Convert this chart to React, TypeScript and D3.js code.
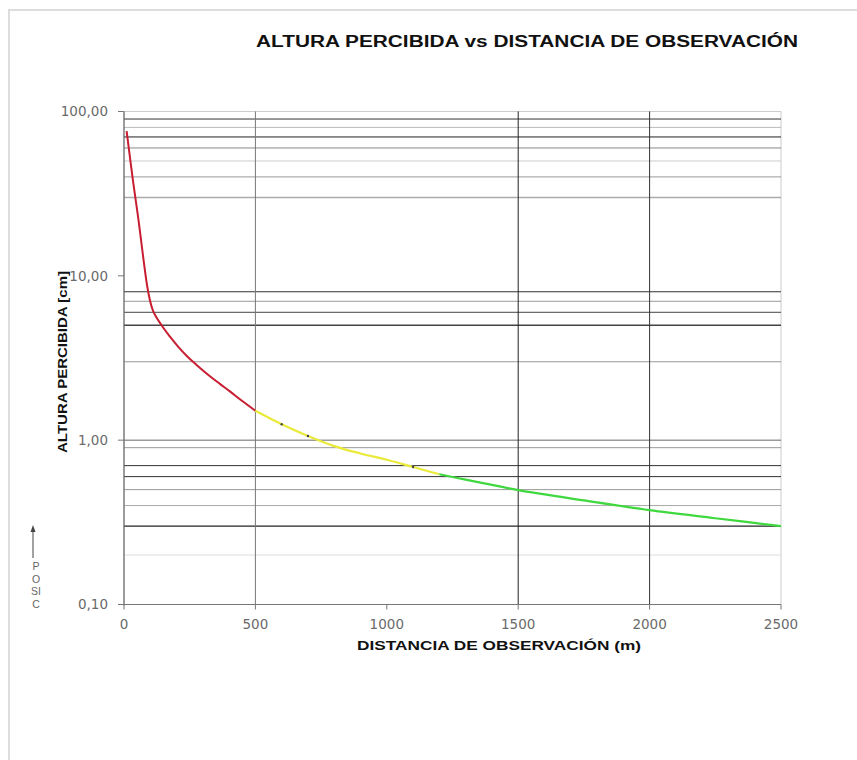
import React from "react";
import * as d3 from "d3";

// ---- data ----
const xTicks = [0, 500, 1000, 1500, 2000, 2500];
const yMajorTicks = [0.1, 1, 10, 100];
const hGridValues = [90, 80, 70, 60, 50, 40, 30, 8, 7, 6, 5, 3, 1, 0.9, 0.7, 0.6, 0.5, 0.4, 0.3, 0.2];
const vGridValues = [500, 1500, 2000];

const distRed = [10, 35, 55, 73, 92, 111, 143, 175, 205, 239, 275, 327, 365, 403, 450, 500];
const altRed = [76, 37, 22, 13, 8.0, 6.1, 5.0, 4.26, 3.72, 3.25, 2.88, 2.45, 2.2, 1.98, 1.73, 1.51];
const distYellow = [500, 600, 700, 800, 900, 1000, 1100, 1200];
const altYellow = [1.51, 1.25, 1.06, 0.92, 0.83, 0.76, 0.687, 0.62];
const distGreen = [1200, 1300, 1400, 1500, 1750, 2000, 2250, 2500];
const altGreen = [0.62, 0.575, 0.535, 0.497, 0.43, 0.375, 0.335, 0.3];
const markerDist = [600, 700, 1100];
const markerAlt = [1.25, 1.06, 0.687];

const title = "ALTURA PERCIBIDA vs DISTANCIA DE OBSERVACIÓN";
const xTitle = "DISTANCIA DE OBSERVACIÓN (m)";
const yTitle = "ALTURA PERCIBIDA [cm]";
const sideLetters = ["P", "O", "SI", "C"];

// ---- styles ----
const hGridTone: Record<string, [string, number]> = {
  "90": ["#333", 1], "80": ["#bbb", 1], "70": ["#222", 1], "60": ["#888", 1],
  "50": ["#ccc", 1], "40": ["#999", 1], "30": ["#aaa", 1.6],
  "8": ["#333", 1], "7": ["#999", 1], "6": ["#444", 1], "5": ["#444", 1.6], "3": ["#999", 1],
  "1": ["#666", 1], "0.9": ["#999", 1], "0.7": ["#333", 1], "0.6": ["#333", 1],
  "0.5": ["#999", 1], "0.4": ["#aaa", 1], "0.3": ["#222", 1.2], "0.2": ["#ddd", 1],
};
const vGridTone: Record<string, string> = { "500": "#777", "1500": "#222", "2000": "#333" };

const W = 857, H = 760;
const X0 = 124, X1 = 781, YT = 111.5, YB = 604.5;

export default function App() {
  const x = d3.scaleLinear().domain([0, 2500]).range([X0, X1]);
  const y = d3.scaleLog().domain([0.1, 100]).range([YB, YT]);
  const loc = d3.formatLocale({ decimal: ",", thousands: ".", grouping: [3], currency: ["", ""] });
  const fmt = loc.format(".2f");

  const line = d3
    .line<[number, number]>()
    .x((d) => x(d[0]))
    .y((d) => y(d[1]))
    .curve(d3.curveCatmullRom.alpha(0.5));
  const zip = (a: number[], b: number[]) => a.map((v, i) => [v, b[i]] as [number, number]);

  return (
    <svg width={W} height={H} style={{ position: "absolute", left: 0, top: 0, background: "#fff" }}>
      <rect x={9} y={10} width={900} height={800} fill="#fff" stroke="#ddd" strokeWidth={2} />

      <text x={256} y={47} fontFamily="Liberation Sans, Arial" fontWeight="bold" fontSize={16}
        textLength={542} lengthAdjust="spacingAndGlyphs" fill="#111">
        {title}
      </text>

      {/* plot border top/right */}
      <line x1={X0} x2={X1} y1={YT} y2={YT} stroke="#ccc" strokeWidth={1} />
      <line x1={X1} x2={X1} y1={YT} y2={YB} stroke="#ccc" strokeWidth={1} />

      {hGridValues.map((v) => {
        const t = hGridTone[String(v)];
        return (
          <line key={"h" + v} x1={X0} x2={X1} y1={y(v)} y2={y(v)} stroke={t[0]} strokeWidth={t[1]} />
        );
      })}
      {vGridValues.map((v) => (
        <line key={"v" + v} x1={x(v)} x2={x(v)} y1={YT} y2={YB} stroke={vGridTone[String(v)]} strokeWidth={1} />
      ))}

      {/* axes */}
      <line x1={X0} x2={X0} y1={YT} y2={YB + 1} stroke="#666" strokeWidth={1.3} />
      <line x1={X0} x2={X1} y1={YB} y2={YB} stroke="#777" strokeWidth={1.2} />
      {yMajorTicks.map((v) => (
        <g key={"yt" + v}>
          <line x1={X0 - 6} x2={X0} y1={y(v)} y2={y(v)} stroke="#777" />
          <text x={108} y={y(v)} dy="0.35em" textAnchor="end" fontFamily="DejaVu Sans" fontSize={13.5} fill="#6a6a6a">
            {fmt(v)}
          </text>
        </g>
      ))}
      {xTicks.map((v) => (
        <g key={"xt" + v}>
          <line x1={x(v)} x2={x(v)} y1={YB} y2={YB + 5} stroke="#777" />
          <text x={x(v)} y={629} textAnchor="middle" fontFamily="DejaVu Sans" fontSize={13.5} fill="#6a6a6a">
            {v}
          </text>
        </g>
      ))}

      {/* curve */}
      <path d={line(zip(distRed, altRed)) || ""} fill="none" stroke="#c81e32" strokeWidth={2} />
      <path d={line(zip(distYellow, altYellow)) || ""} fill="none" stroke="#eaea3a" strokeWidth={2.2} />
      <path d={line(zip(distGreen, altGreen)) || ""} fill="none" stroke="#3fd83f" strokeWidth={2.2} />
      {markerDist.map((d, i) => (
        <circle key={"m" + d} cx={x(d)} cy={y(markerAlt[i])} r={1.2} fill="#444" />
      ))}

      {/* axis titles */}
      <text x={357} y={650} fontFamily="Liberation Sans, Arial" fontWeight="bold" fontSize={13.5}
        textLength={284} lengthAdjust="spacingAndGlyphs" fill="#111">
        {xTitle}
      </text>
      <text transform={`translate(67,453) rotate(-90)`} fontFamily="Liberation Sans, Arial" fontWeight="bold"
        fontSize={12.5} textLength={182} lengthAdjust="spacingAndGlyphs" fill="#111">
        {yTitle}
      </text>

      {/* side marker */}
      <line x1={33} x2={33} y1={531} y2={558} stroke="#444" strokeWidth={1} />
      <path d="M30.5,532 L33,525 L35.5,532 Z" fill="#444" />
      {sideLetters.map((s, i) => (
        <text key={s + i} x={36} y={570 + i * 12.5} textAnchor="middle" fontFamily="Liberation Sans, Arial"
          fontSize={10.5} fill="#666">
          {s}
        </text>
      ))}
    </svg>
  );
}
